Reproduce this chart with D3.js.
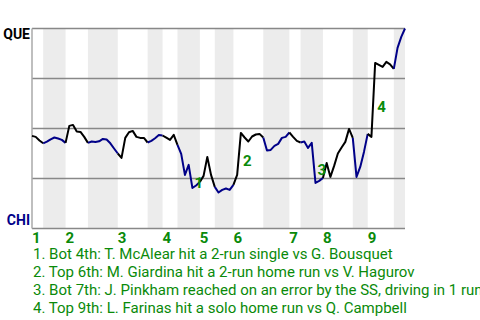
<!DOCTYPE html>
<html>
<head>
<meta charset="utf-8">
<script src="https://cdn.jsdelivr.net/npm/d3@7"></script>
<style>
  body { margin: 0; background: #fff; }
  svg { display: block; font-family: Roboto, "Noto Sans", sans-serif; }
</style>
</head>
<body>
<div id="chart"></div>
<script>
// Plate appearances per half inning (Top 1st, Bot 1st, Top 2nd, ...)
const halfInningPAs = [3, 6, 6, 8, 8, 4, 4, 6, 4, 5, 8, 7, 3, 6, 8, 4, 7, 3];

// QUE win probability (%) after each plate appearance, index 0 = first pitch
const winProb = [
  46.3, 45.8, 44.0, 42.6,
  43.4, 44.6, 45.5, 45.0, 44.3, 42.8,
  51.3, 51.8, 48.5, 48.3, 45.8, 42.8,
  43.5, 43.2, 43.6, 44.8, 44.5, 42.6, 40.0, 37.5,
  35.3, 45.3, 48.1, 48.8, 45.8, 45.3, 45.3, 43.0,
  43.8, 45.1, 46.7, 46.5,
  45.4, 44.3, 46.8, 41.8,
  37.3, 26.8, 31.8, 20.3, 21.5, 23.3,
  26.3, 35.8, 26.8, 20.8,
  18.0, 19.3, 20.0, 19.3, 21.8,
  26.8, 47.8, 45.5, 43.5, 46.0, 47.0, 47.3, 45.5,
  39.0, 39.3, 41.3, 42.3, 45.3, 45.8, 48.0,
  45.8, 43.8, 43.0,
  43.5, 40.3, 42.8, 22.8, 23.8, 25.3,
  32.8, 25.8, 31.3, 37.5, 40.5, 43.3, 49.8, 45.3,
  25.8, 30.8, 38.3, 47.3,
  45.8, 82.8, 81.8, 80.8, 83.3, 82.1, 79.8,
  90.3, 95.8, 100
];

const yTicks = [0, 25, 50, 75, 100];
const innings = ["1", "2", "3", "4", "5", "6", "7", "8", "9"];

// Key plays: plate appearance index where the swing happened
const keyPlays = [
  { pa: 43, text: "1. Bot 4th: T. McAlear hit a 2-run single vs G. Bousquet" },
  { pa: 56, text: "2. Top 6th: M. Giardina hit a 2-run home run vs V. Hagurov" },
  { pa: 76, text: "3. Bot 7th: J. Pinkham reached on an error by the SS, driving in 1 run" },
  { pa: 92, text: "4. Top 9th: L. Farinas hit a solo home run vs Q. Campbell" }
];

const teams = { top: "QUE", bottom: "CHI" };

const width = 480, height = 320;
const margin = { left: 32, right: 75, top: 28.5, bottom: 91.5 };
const green = "#0a8a0a";
const navy = "#000088";

const svg = d3.select("#chart").append("svg")
  .attr("width", width)
  .attr("height", height);

const totalPA = d3.sum(halfInningPAs);
const x = d3.scaleLinear().domain([0, totalPA]).range([margin.left, width - margin.right]);
const y = d3.scaleLinear().domain([0, 100]).range([height - margin.bottom, margin.top]);

// half inning boundaries in PA units
const bounds = [0, ...d3.cumsum(halfInningPAs)];
const halves = halfInningPAs.map((n, i) => ({ i, start: bounds[i], end: bounds[i + 1] }));

// shaded bottom halves
svg.append("g")
  .selectAll("rect")
  .data(halves.filter(h => h.i % 2 === 1))
  .join("rect")
  .attr("x", d => x(d.start))
  .attr("width", d => x(d.end) - x(d.start))
  .attr("y", y(100))
  .attr("height", y(0) - y(100))
  .attr("fill", "#ececec");

// horizontal grid lines
svg.append("g")
  .selectAll("line")
  .data(yTicks)
  .join("line")
  .attr("x1", x(0))
  .attr("x2", x(totalPA))
  .attr("y1", d => y(d))
  .attr("y2", d => y(d))
  .attr("stroke", "#888")
  .attr("stroke-width", 1.5);

svg.append("line")
  .attr("x1", x(0)).attr("x2", x(0))
  .attr("y1", y(100)).attr("y2", y(0))
  .attr("stroke", "#aaa")
  .attr("stroke-width", 1.5);

// win probability line, coloured by batting team
const line = d3.line()
  .x(d => x(d[0]))
  .y(d => y(d[1]));

svg.append("g")
  .selectAll("path")
  .data(halves)
  .join("path")
  .attr("d", h => line(d3.range(h.start, h.end + 1).map(k => [k, winProb[k]])))
  .attr("fill", "none")
  .attr("stroke", h => h.i % 2 === 0 ? "#000" : navy)
  .attr("stroke-width", 2)
  .attr("stroke-linejoin", "round");

// key play markers
svg.append("g")
  .selectAll("text")
  .data(keyPlays)
  .join("text")
  .attr("x", d => x(d.pa) + 2)
  .attr("y", d => (y(winProb[d.pa - 1]) + y(winProb[d.pa])) / 2 + 12)
  .attr("fill", green)
  .style("font-size", "15px")
  .style("font-weight", "bold")
  .text((d, i) => i + 1);

// team labels
svg.append("text")
  .attr("x", 30).attr("y", 39)
  .attr("text-anchor", "end")
  .style("font-size", "14px").style("font-weight", "bold")
  .attr("fill", "#000")
  .text(teams.top);

svg.append("text")
  .attr("x", 30).attr("y", 225)
  .attr("text-anchor", "end")
  .style("font-size", "14px").style("font-weight", "bold")
  .attr("fill", navy)
  .text(teams.bottom);

// inning numbers at the start of each top half
svg.append("g")
  .selectAll("text")
  .data(innings)
  .join("text")
  .attr("x", (d, i) => x(bounds[i * 2]))
  .attr("y", 243)
  .attr("fill", green)
  .style("font-size", "15px")
  .style("font-weight", "bold")
  .text(d => d);

// key play list
svg.append("g")
  .selectAll("text")
  .data(keyPlays)
  .join("text")
  .attr("x", 33)
  .attr("y", (d, i) => 259 + i * 18)
  .attr("fill", green)
  .style("font-size", "15px")
  .text(d => d.text);
</script>
</body>
</html>
